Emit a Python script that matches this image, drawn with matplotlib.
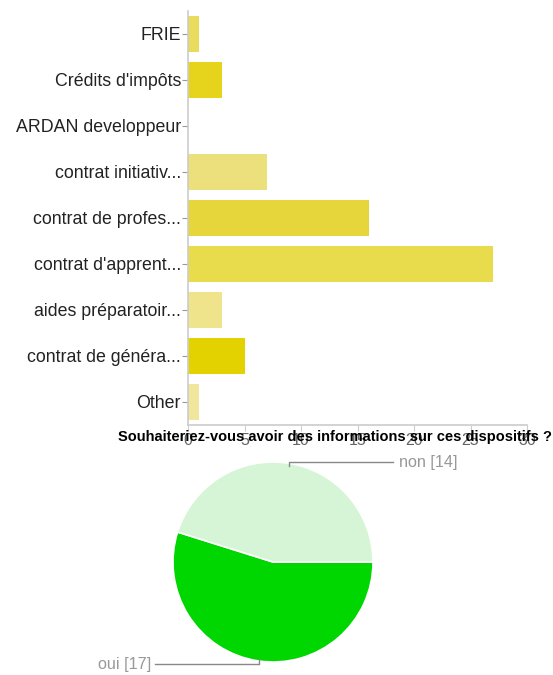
import numpy as np
import matplotlib
matplotlib.use("Agg")
from matplotlib import pyplot as plt

plt.rcParams['font.family'] = ['Liberation Sans', 'DejaVu Sans']

# bar chart: answers per device
categories = ["FRIE", "Crédits d'impôts", "ARDAN developpeur", "contrat initiativ...",
              "contrat de profes...", "contrat d'apprent...", "aides préparatoir...",
              "contrat de généra...", "Other"]
counts = [1, 3, 0, 7, 16, 27, 3, 5, 1]
bar_colors = ["#e9dc5c", "#e6d41c", "#e6d850", "#ece07c", "#e6d63c",
              "#e8db4c", "#efe48c", "#e4d200", "#f1e79c"]
xticks = [0, 5, 10, 15, 20, 25, 30]

# pie chart: wants information?
pie_labels = ["oui", "non"]
pie_values = [17, 14]
pie_colors = ["#00d600", "#d6f5d6"]

W, H = 553, 675
fig = plt.figure(figsize=(W / 100, H / 100), dpi=100)

ax = fig.add_axes([188 / W, 1 - 425 / H, (527 - 188) / W, (425 - 11) / H])
y = np.arange(len(categories))
ax.barh(y, counts, height=0.78, color=bar_colors)
ax.set_ylim(len(categories) - 0.5, -0.5)
ax.set_xlim(0, 30)
ax.set_yticks(y)
ax.set_yticklabels(categories, fontsize=12.8, color="#222222")
ax.set_xticks(xticks)
ax.set_xticklabels([str(t) for t in xticks], fontsize=11.5, color="#666666")
for s in ["top", "right"]:
    ax.spines[s].set_visible(False)
for s in ["left", "bottom"]:
    ax.spines[s].set_color("#cccccc")
    ax.spines[s].set_linewidth(1.2)
ax.tick_params(axis="y", length=4, color="#999999", pad=1)
ax.tick_params(axis="x", length=4, color="#cccccc", pad=2)

fig.text(335 / W, 1 - 437 / H, "Souhaiteriez-vous avoir des informations sur ces dispositifs ?",
         ha="center", va="center", fontsize=10.5, fontweight="bold", color="black")

pax = fig.add_axes([(273 - 100) / W, 1 - (562 + 100) / H, 200 / W, 200 / H])
wedges, _ = pax.pie(pie_values, colors=pie_colors, startangle=0, counterclock=False,
                    wedgeprops=dict(edgecolor="white", linewidth=1.2))
pax.set_xlim(-1, 1)
pax.set_ylim(-1, 1)
pax.set_aspect("equal")

# leader lines and labels: upper wedge to the right, lower wedge to the left
lc = "#888888"
for w, lab, val in zip(wedges, pie_labels, pie_values):
    mid = np.deg2rad((w.theta1 + w.theta2) / 2)
    if np.sin(mid) > 0:
        pax.plot([0.16, 0.16, 1.2], [0.96, 1.0, 1.0], color=lc, lw=1, clip_on=False)
        pax.text(1.26, 1.0, f"{lab} [{val}]", ha="left", va="center", fontsize=11.7,
                 color="#999999")
    else:
        pax.plot([-0.14, -0.14, -1.18], [-0.97, -1.02, -1.02], color=lc, lw=1, clip_on=False)
        pax.text(-1.22, -1.02, f"{lab} [{val}]", ha="right", va="center", fontsize=11.7,
                 color="#999999")

fig.savefig("out.png", dpi=100)
